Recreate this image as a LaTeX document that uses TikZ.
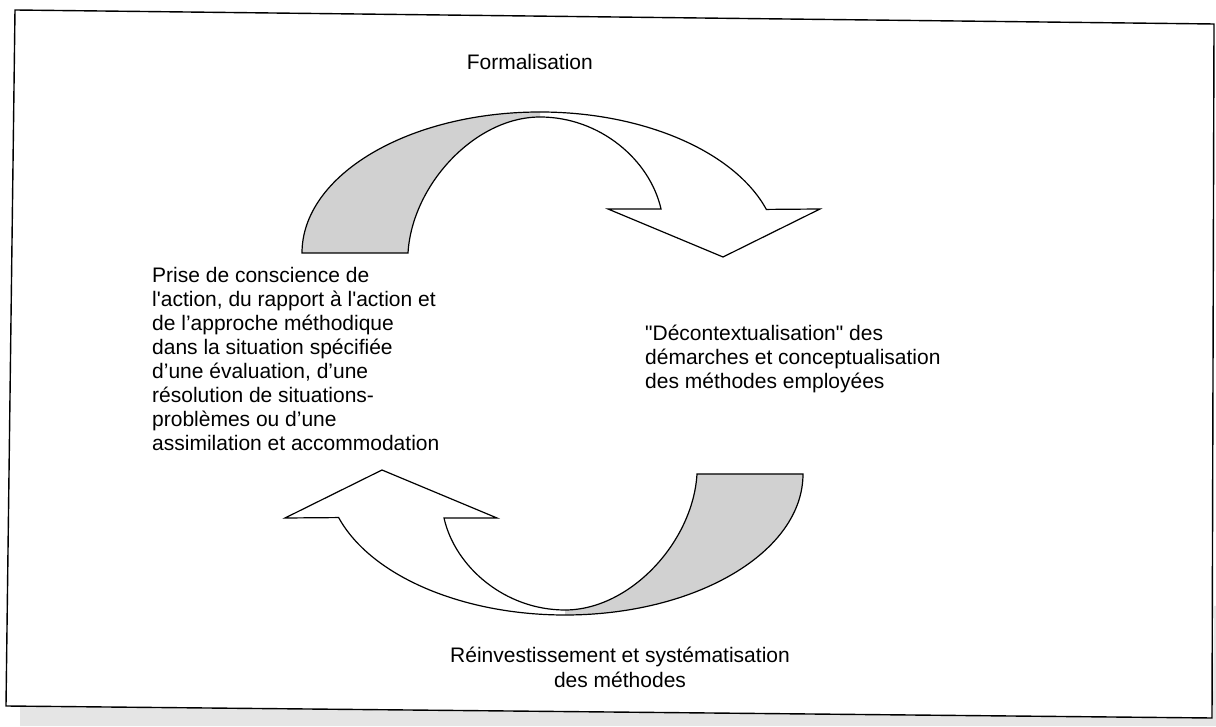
\documentclass[tikz,border=0pt]{standalone}
\usepackage{fontspec}
\newfontfamily\arialfont{Liberation Sans}

\begin{document}
\begin{tikzpicture}[
  x=1pt, y=1pt,
  frame/.style={draw=black, line width=1.4pt},
  scanband/.style={fill=black!10},
  band/.style={draw=black, line width=1.2pt, line join=miter},
  backfill/.style={fill=black!18},
  caption/.style={font=\arialfont\fontsize{21}{24}\selectfont, inner sep=0pt, align=left},
  bottomcap/.style={font=\arialfont\fontsize{21}{25}\selectfont, inner sep=0pt, align=center}
]
\useasboundingbox (0,0) rectangle (1216,726);
\fill[white] (0,0) rectangle (1216,726);

% scanned page border
\fill[scanband] (20,0) -- (1216,0) -- (1216,120) -- (1214,120) -- (1213,8) -- (20,19) -- cycle;
\draw[frame] (15,716) -- (1214,702) -- (1212,8) -- (6,20) -- cycle;

% the two turning arrows (second one is the first turned half round)
\foreach \turn in {0,180} {
  \begin{scope}[rotate around={\turn:(552.5,362.5)}]
    % shaded back of the band
    \fill[backfill] (302,473) arc[start angle=180, end angle=90, x radius=238, y radius=141]
      -- (540,609) .. controls (475,609) and (412,541) .. (408,473) -- cycle;
    % outline of the whole arrow
    \draw[band] (302,473) arc[start angle=180, end angle=18, x radius=238, y radius=141]
      -- (820,517) -- (723,469) -- (608,517) -- (661,517)
      .. controls (650,566) and (600,609) .. (540,609)
      .. controls (475,609) and (412,541) .. (408,473) -- cycle;
  \end{scope}
}

% labels
\node[caption, anchor=base east] (formal) at (593,656) {Formalisation};

\node[caption, anchor=north west] (prise) at (152,459.3)
  {Prise de conscience de\\
   l'action, du rapport à l'action et\\
   de l’approche méthodique\\
   dans la situation spécifiée\\
   d’une évaluation, d’une\\
   résolution de situations-\\
   problèmes ou d’une\\
   assimilation et accommodation};

\node[caption, anchor=north west] (decontext) at (645,401.5)
  {"Décontextualisation" des\\
   démarches et conceptualisation\\
   des méthodes employées};

\node[bottomcap, anchor=north] (reinvest) at (620,79.5)
  {Réinvestissement et systématisation\\
   des méthodes};

\end{tikzpicture}
\end{document}
